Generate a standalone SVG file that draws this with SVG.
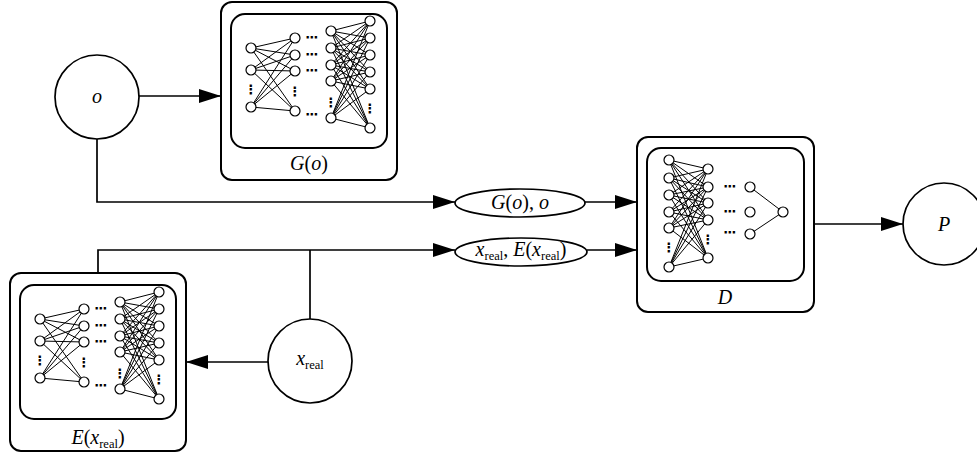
<svg xmlns="http://www.w3.org/2000/svg" xmlns:xlink="http://www.w3.org/1999/xlink" width="977" height="454" viewBox="0 0 977 454">
<style>
.box{fill:none;stroke:#000;stroke-width:2}
.node{fill:#fff;stroke:#000;stroke-width:1.7}
.conn{fill:none;stroke:#000;stroke-width:1.7}
.e{stroke:#000;stroke-width:1}
.n{fill:#fff;stroke:#000;stroke-width:1.2}
.t{font-family:"Liberation Serif","Times New Roman",serif;font-size:20px;fill:#000}
.i{font-style:italic}
.s{font-size:12.5px}
.d{font-family:"DejaVu Sans",sans-serif;font-size:13px;font-weight:bold;fill:#000;text-anchor:middle}
</style>
<defs>
<marker id="arr" markerUnits="userSpaceOnUse" viewBox="0 0 22 14" refX="22" refY="7" markerWidth="22" markerHeight="14" orient="auto">
<path d="M0,0 L22,7 L0,14 Z" fill="#000"/>
</marker>
<g id="net1">
<g class="e">
<path d="M30,46L74,36M30,46L74,53M30,46L74,69M30,46L74,109M30,68L74,36M30,68L74,53M30,68L74,69M30,68L74,109M30,105L74,36M30,105L74,53M30,105L74,69M30,105L74,109"/>
<path d="M110,29L149,19M110,29L149,36M110,29L149,53M110,29L149,70M110,29L149,87M110,29L149,126M110,46L149,19M110,46L149,36M110,46L149,53M110,46L149,70M110,46L149,87M110,46L149,126M110,63L149,19M110,63L149,36M110,63L149,53M110,63L149,70M110,63L149,87M110,63L149,126M110,79L149,19M110,79L149,36M110,79L149,53M110,79L149,70M110,79L149,87M110,79L149,126M110,116L149,19M110,116L149,36M110,116L149,53M110,116L149,70M110,116L149,87M110,116L149,126"/>
</g>
<g class="n">
<circle cx="30" cy="46" r="5"/><circle cx="30" cy="68" r="5"/><circle cx="30" cy="105" r="5"/>
<circle cx="74" cy="36" r="5"/><circle cx="74" cy="53" r="5"/><circle cx="74" cy="69" r="5"/><circle cx="74" cy="109" r="5"/>
<circle cx="110" cy="29" r="5"/><circle cx="110" cy="46" r="5"/><circle cx="110" cy="63" r="5"/><circle cx="110" cy="79" r="5"/><circle cx="110" cy="116" r="5"/>
<circle cx="149" cy="19" r="5"/><circle cx="149" cy="36" r="5"/><circle cx="149" cy="53" r="5"/><circle cx="149" cy="70" r="5"/><circle cx="149" cy="87" r="5"/><circle cx="149" cy="126" r="5"/>
</g>
<text class="d" x="91" y="40">⋯</text><text class="d" x="91" y="57">⋯</text><text class="d" x="91" y="73">⋯</text><text class="d" x="91" y="117">⋯</text>
<text class="d" x="30" y="92">⋮</text><text class="d" x="74" y="94">⋮</text><text class="d" x="110" y="105">⋮</text><text class="d" x="149" y="111">⋮</text>
</g>
</defs>

<g id="connectors">
<path class="conn" d="M139,96 H221" marker-end="url(#arr)"/>
<path class="conn" d="M97,139 V202 H455" marker-end="url(#arr)"/>
<path class="conn" d="M585,202 H637" marker-end="url(#arr)"/>
<path class="conn" d="M98,273 V250 H455" marker-end="url(#arr)"/>
<path class="conn" d="M310,319 V250"/>
<path class="conn" d="M587,250 H637" marker-end="url(#arr)"/>
<path class="conn" d="M268,362 H186" marker-end="url(#arr)"/>
<path class="conn" d="M814,224 H903" marker-end="url(#arr)"/>
</g>

<g id="node-o">
<circle class="node" cx="97" cy="97" r="42"/>
<text class="t i" x="97" y="103" text-anchor="middle">o</text>
</g>

<g id="node-G">
<rect class="box" x="221" y="2" width="176" height="178" rx="11"/>
<rect class="box" x="231" y="14" width="156" height="134" rx="14"/>
<use xlink:href="#net1" transform="translate(221,2)"/>
<text class="t" x="309" y="170" text-anchor="middle"><tspan class="i">G</tspan>(<tspan class="i">o</tspan>)</text>
</g>

<g id="node-E">
<rect class="box" x="10" y="273" width="176" height="178" rx="11"/>
<rect class="box" x="20" y="285" width="156" height="134" rx="14"/>
<use xlink:href="#net1" transform="translate(10,273)"/>
<text class="t" x="98" y="444" text-anchor="middle"><tspan class="i">E</tspan>(<tspan class="i">x</tspan><tspan class="s" dy="4">real</tspan><tspan dy="-4">)</tspan></text>
</g>

<g id="node-x">
<circle class="node" cx="310" cy="361" r="42"/>
<text class="t" x="310" y="365" text-anchor="middle"><tspan class="i">x</tspan><tspan class="s" dy="4">real</tspan></text>
</g>

<g id="node-Go">
<ellipse class="node" cx="520" cy="203" rx="65" ry="14"/>
<text class="t" x="520" y="209" text-anchor="middle"><tspan class="i">G</tspan>(<tspan class="i">o</tspan>), <tspan class="i">o</tspan></text>
</g>

<g id="node-xE">
<ellipse class="node" cx="521" cy="252" rx="66" ry="14"/>
<text class="t" x="521" y="256" text-anchor="middle"><tspan class="i">x</tspan><tspan class="s" dy="4">real</tspan><tspan dy="-4">, </tspan><tspan class="i">E</tspan>(<tspan class="i">x</tspan><tspan class="s" dy="4">real</tspan><tspan dy="-4">)</tspan></text>
</g>

<g id="node-D">
<rect class="box" x="637" y="137" width="177" height="175" rx="11"/>
<rect class="box" x="647" y="148" width="157" height="133" rx="14"/>
<g transform="translate(637,137)">
<g class="e">
<path d="M32,23L71,32M32,23L71,50M32,23L71,66M32,23L71,83M32,23L71,121M32,41L71,32M32,41L71,50M32,41L71,66M32,41L71,83M32,41L71,121M32,58L71,32M32,58L71,50M32,58L71,66M32,58L71,83M32,58L71,121M32,75L71,32M32,75L71,50M32,75L71,66M32,75L71,83M32,75L71,121M32,91L71,32M32,91L71,50M32,91L71,66M32,91L71,83M32,91L71,121M32,130L71,32M32,130L71,50M32,130L71,66M32,130L71,83M32,130L71,121"/>
<path d="M113,50L146,75M113,97L146,75"/>
</g>
<g class="n">
<circle cx="32" cy="23" r="5"/><circle cx="32" cy="41" r="5"/><circle cx="32" cy="58" r="5"/><circle cx="32" cy="75" r="5"/><circle cx="32" cy="91" r="5"/><circle cx="32" cy="130" r="5"/>
<circle cx="71" cy="32" r="5"/><circle cx="71" cy="50" r="5"/><circle cx="71" cy="66" r="5"/><circle cx="71" cy="83" r="5"/><circle cx="71" cy="121" r="5"/>
<circle cx="113" cy="50" r="5"/><circle cx="113" cy="75" r="5"/><circle cx="113" cy="97" r="5"/>
<circle cx="146" cy="75" r="5"/>
</g>
<text class="d" x="93" y="54">⋯</text><text class="d" x="93" y="79">⋯</text><text class="d" x="93" y="100">⋯</text>
<text class="d" x="32" y="115">⋮</text><text class="d" x="71" y="107">⋮</text>
</g>
<text class="t i" x="725" y="304" text-anchor="middle">D</text>
</g>

<g id="node-P">
<circle class="node" cx="944" cy="224" r="41"/>
<text class="t i" x="944" y="231" text-anchor="middle">P</text>
</g>
</svg>
